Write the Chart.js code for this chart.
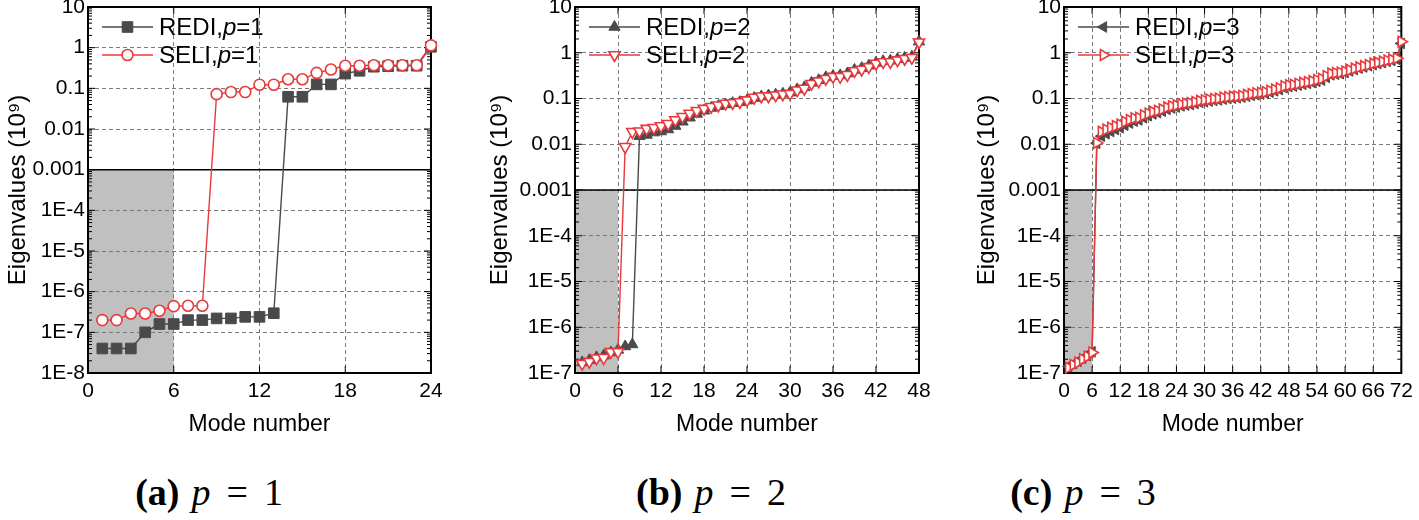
<!DOCTYPE html>
<html lang="en">
<head>
<meta charset="UTF-8">
<title>Eigenvalues vs mode number</title>
<script src="https://cdn.jsdelivr.net/npm/chart.js@4"></script>
<style>
  body { margin: 0; background: #fff; width: 1419px; height: 520px; overflow: hidden; position: relative; }
  canvas { position: absolute; }
  #chartA { left: 0; top: -13px; }
  #chartB { left: 470px; top: -13px; }
  #chartC { left: 950px; top: -13px; }
  .cap { position: absolute; top: 470px; font-family: 'Liberation Serif', 'Times New Roman', serif; font-size: 38px; white-space: nowrap; transform: translateX(-50%); }
  .cap b { margin-right: 12px; }
  .cap .eq { margin: 0 16px; }
</style>
</head>
<body>
<canvas id="chartA" width="470" height="453"></canvas>
<canvas id="chartB" width="480" height="453"></canvas>
<canvas id="chartC" width="469" height="453"></canvas>
<div class="cap" style="left:209px"><b>(a)</b><i>p</i><span class="eq">=</span>1</div>
<div class="cap" style="left:711px"><b>(b)</b><i>p</i><span class="eq">=</span>2</div>
<div class="cap" style="left:1083px"><b>(c)</b><i>p</i><span class="eq">=</span>3</div>

<script>
// eigenvalues in units of 1e9, mode numbers start at 1
const rediP1 = [4e-8, 4e-8, 4e-8, 1.0e-7, 1.6e-7, 1.6e-7, 2.0e-7, 2.0e-7, 2.2e-7, 2.2e-7, 2.4e-7, 2.4e-7,
  2.95e-7, 0.062, 0.062, 0.125, 0.125, 0.23, 0.27, 0.34, 0.35, 0.36, 0.36, 1.05];
const seliP1 = [2.0e-7, 2.0e-7, 2.9e-7, 2.9e-7, 3.4e-7, 4.4e-7, 4.5e-7, 4.5e-7, 0.072, 0.081, 0.081, 0.123,
  0.123, 0.167, 0.167, 0.24, 0.29, 0.36, 0.36, 0.37, 0.37, 0.37, 0.37, 1.14];

const rediP2 = [1.7e-7, 1.9e-7, 2.2e-7, 2.4e-7, 2.8e-7, 3.2e-7, 3.8e-7, 4.2e-7,
  0.015, 0.016, 0.018, 0.019, 0.021, 0.025, 0.031, 0.038, 0.046, 0.054, 0.062, 0.068, 0.074, 0.079, 0.083, 0.090,
  0.102, 0.110, 0.116, 0.121, 0.127, 0.134, 0.158, 0.175, 0.22, 0.25, 0.29, 0.31, 0.32, 0.35, 0.42, 0.46,
  0.52, 0.60, 0.65, 0.67, 0.72, 0.77, 0.82, 1.75];
const seliP2 = [1.6e-7, 1.77e-7, 2.1e-7, 2.15e-7, 2.9e-7, 2.9e-7, 0.0088,
  0.0187, 0.0193, 0.022, 0.023, 0.025, 0.028, 0.034, 0.040, 0.047, 0.054, 0.060, 0.066, 0.071, 0.078, 0.080, 0.084, 0.092,
  0.105, 0.112, 0.112, 0.118, 0.124, 0.128, 0.152, 0.165, 0.21, 0.24, 0.27, 0.30, 0.30, 0.33, 0.40, 0.43,
  0.49, 0.58, 0.63, 0.63, 0.69, 0.74, 0.78, 1.7];

const rediP3 = [1.4e-7, 1.6e-7, 1.8e-7, 2.1e-7, 2.4e-7, 2.9e-7, 0.0105,
  0.015, 0.017, 0.019, 0.021, 0.023, 0.026, 0.029, 0.032, 0.034, 0.038, 0.042, 0.046, 0.049, 0.053, 0.058, 0.062,
  0.065, 0.069, 0.072, 0.074, 0.078, 0.082, 0.085, 0.088, 0.091, 0.093, 0.097,
  0.100, 0.102, 0.104, 0.107, 0.112, 0.117, 0.121, 0.125, 0.130, 0.138, 0.147, 0.157, 0.172, 0.182, 0.187, 0.196,
  0.205, 0.214, 0.224, 0.238, 0.252, 0.29, 0.33, 0.34, 0.35, 0.37, 0.40, 0.43, 0.46, 0.49, 0.52, 0.55,
  0.58, 0.61, 0.65, 0.68, 0.72, 1.6];
const seliP3 = [1.3e-7, 1.5e-7, 1.7e-7, 2.0e-7, 2.3e-7, 2.8e-7, 0.0107,
  0.0187, 0.021, 0.023, 0.025, 0.027, 0.031, 0.034, 0.037, 0.038, 0.043, 0.047, 0.051, 0.054, 0.058, 0.064, 0.068,
  0.071, 0.075, 0.078, 0.080, 0.084, 0.089, 0.092, 0.095, 0.098, 0.100, 0.105,
  0.108, 0.110, 0.112, 0.115, 0.120, 0.126, 0.130, 0.134, 0.139, 0.148, 0.158, 0.168, 0.185, 0.195, 0.20, 0.21,
  0.22, 0.23, 0.24, 0.255, 0.27, 0.31, 0.35, 0.36, 0.37, 0.39, 0.42, 0.45, 0.48, 0.51, 0.54, 0.58,
  0.61, 0.64, 0.68, 0.71, 0.76, 1.75];

const yTickVals = [10, 1, 0.1, 0.01, 0.001, 1e-4, 1e-5, 1e-6, 1e-7, 1e-8];
const yTickLabels = ['10', '1', '0.1', '0.01', '0.001', '1E-4', '1E-5', '1E-6', '1E-7', '1E-8'];
const xTicksA = [0, 6, 12, 18, 24];
const xTicksB = [0, 6, 12, 18, 24, 30, 36, 42, 48];
const xTicksC = [0, 6, 12, 18, 24, 30, 36, 42, 48, 54, 60, 66, 72];

const RED = '#e8393c';
const DARK = '#4a4a4a';
const GRID = '#7a7a7a';
const SANS = "'Liberation Sans', Arial, sans-serif";

function pts(vals) {
  return vals.map((v, i) => ({ x: i + 1, y: v }));
}

// grey box below 0.001 for modes 0-6, drawn under the grid
const shadePlugin = {
  id: 'shade',
  beforeDraw(chart) {
    const { ctx, scales: { x, y } } = chart;
    const x0 = x.getPixelForValue(0), x1 = x.getPixelForValue(6);
    const y0 = y.getPixelForValue(1e-3), y1 = y.getPixelForValue(y.min);
    ctx.save();
    ctx.fillStyle = '#c0c0c0';
    ctx.fillRect(x0, y0, x1 - x0, y1 - y0);
    ctx.restore();
  }
};

// frame, threshold line and inward ticks
const framePlugin = {
  id: 'frame',
  beforeDatasetsDraw(chart) {
    const { ctx, chartArea: a, scales: { x, y } } = chart;
    ctx.save();
    ctx.strokeStyle = '#000';
    ctx.lineWidth = 1.5;
    const yt = y.getPixelForValue(1e-3);
    ctx.beginPath();
    ctx.moveTo(a.left, yt); ctx.lineTo(a.right, yt);
    ctx.stroke();

    ctx.lineWidth = 1;
    ctx.beginPath();
    for (let e = Math.round(Math.log10(y.min)); e < 1; e++) {
      for (let k = 1; k < 10; k++) {
        const py = y.getPixelForValue(k * Math.pow(10, e));
        const len = k === 1 ? 7 : 4;
        ctx.moveTo(a.left, py); ctx.lineTo(a.left + len, py);
        ctx.moveTo(a.right, py); ctx.lineTo(a.right - len, py);
      }
    }
    x.ticks.forEach(t => {
      const px = x.getPixelForValue(t.value);
      ctx.moveTo(px, a.top); ctx.lineTo(px, a.top + 7);
      ctx.moveTo(px, a.bottom); ctx.lineTo(px, a.bottom - 7);
    });
    ctx.stroke();

    ctx.lineWidth = 2;
    ctx.strokeRect(a.left, a.top, a.right - a.left, a.bottom - a.top);
    ctx.restore();
  },
  afterDraw(chart) {
    // legend in the upper left corner of the plot
    const { ctx, chartArea: a } = chart;
    const p = chart.options.plugins.frameLegend;
    const rows = [chart.data.datasets[1], chart.data.datasets[0]];
    ctx.save();
    rows.forEach((ds, i) => {
      const cy = a.top + 20 + i * 28;
      const lx = a.left + 14;
      ctx.strokeStyle = ds.borderColor;
      ctx.lineWidth = 1.4;
      ctx.beginPath();
      ctx.moveTo(lx, cy); ctx.lineTo(lx + 51, cy);
      ctx.stroke();
      ctx.fillStyle = ds.backgroundColor;
      ctx.lineWidth = ds.pointBorderWidth;
      Chart.helpers.drawPoint(ctx, {
        pointStyle: ds.pointStyle, rotation: ds.rotation,
        radius: ds.pointRadius, borderWidth: ds.pointBorderWidth
      }, lx + 25.5, cy);
      ctx.fillStyle = '#000';
      ctx.textBaseline = 'middle';
      let tx = a.left + 71;
      ctx.font = '24px ' + SANS;
      ctx.fillText(ds.label + ',', tx, cy + 1);
      tx += ctx.measureText(ds.label + ',').width;
      ctx.font = 'italic 24px ' + SANS;
      ctx.fillText('p', tx, cy + 1);
      tx += ctx.measureText('p').width;
      ctx.font = '24px ' + SANS;
      ctx.fillText('=' + p.p, tx, cy + 1);
    });
    ctx.restore();
  }
};

function makePanel(id, o) {
  const datasets = [
    {
      label: 'SELI', data: pts(o.seli), borderColor: RED, backgroundColor: '#fff',
      borderWidth: 1.4, pointStyle: o.seliStyle, rotation: o.seliRot, pointRadius: o.seliR,
      pointBorderWidth: 1.6, order: 0, clip: false
    },
    {
      label: 'REDI', data: pts(o.redi), borderColor: DARK, backgroundColor: DARK,
      borderWidth: 1.4, pointStyle: o.rediStyle, rotation: o.rediRot, pointRadius: o.rediR,
      pointBorderWidth: 1, order: 1, clip: false
    }
  ];
  return new Chart(document.getElementById(id), {
    type: 'line',
    data: { datasets },
    options: {
      responsive: false,
      animation: false,
      devicePixelRatio: 1,
      layout: { padding: { top: 20, left: 0, right: o.padRight, bottom: 0 } },
      plugins: { legend: { display: false }, tooltip: { enabled: false }, frameLegend: { p: o.p } },
      scales: {
        x: {
          type: 'linear', min: 0, max: o.xTicks[o.xTicks.length - 1],
          afterBuildTicks: s => { s.ticks = o.xTicks.map(v => ({ value: v })); },
          afterFit: s => { s.height = 67; },
          grid: { color: GRID, lineWidth: 1, drawTicks: false },
          border: { display: false, dash: [4, 3] },
          ticks: { color: '#000', font: { family: SANS, size: 21 }, padding: 6, maxRotation: 0, autoSkip: false,
            callback: v => String(v) },
          title: { display: true, text: 'Mode number', color: '#000', font: { family: SANS, size: 23 },
            padding: { top: 0, bottom: 2 } }
        },
        y: {
          type: 'logarithmic', min: o.yMin, max: 10,
          afterBuildTicks: s => { s.ticks = yTickVals.filter(v => v >= o.yMin).map(v => ({ value: v })); },
          afterFit: s => { s.width = o.yWidth; },
          grid: { color: GRID, lineWidth: 1, drawTicks: false },
          border: { display: false, dash: [4, 3] },
          ticks: { color: '#000', font: { family: SANS, size: 21 }, padding: 3, autoSkip: false,
            callback: v => yTickLabels[yTickVals.indexOf(v)] },
          title: { display: true, text: 'Eigenvalues (10\u2079)', color: '#000', font: { family: SANS, size: 24 },
            padding: { top: o.titlePad, bottom: 0 } }
        }
      }
    },
    plugins: [shadePlugin, framePlugin]
  });
}

makePanel('chartA', {
  redi: rediP1, seli: seliP1, p: 1, yMin: 1e-8, xTicks: xTicksA, yWidth: 88, padRight: 39, titlePad: 4,
  rediStyle: 'rect', rediRot: 0, rediR: 7.5, seliStyle: 'circle', seliRot: 0, seliR: 5.5
});
makePanel('chartB', {
  redi: rediP2, seli: seliP2, p: 2, yMin: 1e-7, xTicks: xTicksB, yWidth: 105, padRight: 31, titlePad: 16,
  rediStyle: 'triangle', rediRot: 0, rediR: 6.5, seliStyle: 'triangle', seliRot: 180, seliR: 6.5
});
makePanel('chartC', {
  redi: rediP3, seli: seliP3, p: 3, yMin: 1e-7, xTicks: xTicksC, yWidth: 114, padRight: 12, titlePad: 23,
  rediStyle: 'triangle', rediRot: -90, rediR: 6.2, seliStyle: 'triangle', seliRot: 90, seliR: 6.2
});
</script>
</body>
</html>
